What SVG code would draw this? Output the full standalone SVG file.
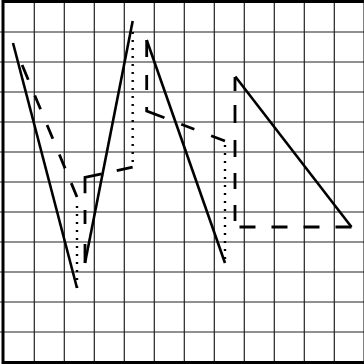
<svg xmlns="http://www.w3.org/2000/svg" width="364" height="364" viewBox="0 0 364 364">
<style>
.grid{stroke:#222;stroke-width:1.2;fill:none}
.frame{stroke:#000;stroke-width:3;fill:none}
.solid{stroke:#000;stroke-width:2.6;fill:none;stroke-linecap:butt}
.dash{stroke:#000;stroke-width:2.8;fill:none;stroke-dasharray:16 16;stroke-linejoin:miter}
.dot{stroke:#000;stroke-width:2.4;fill:none;stroke-dasharray:2 6}
</style>
<rect width="364" height="364" fill="#fff"/>
<g id="grid" class="grid">
<path d="M34.3 0V364M64.3 0V364M94.3 0V364M124.3 0V364M154.3 0V364M184.3 0V364M214.3 0V364M244.3 0V364M274.3 0V364M304.3 0V364M334.3 0V364"/>
<path d="M0 32H364M0 62H364M0 92H364M0 122H364M0 152H364M0 182H364M0 212H364M0 242H364M0 272H364M0 302H364M0 332H364"/>
</g>
<rect class="frame" x="3" y="1.5" width="362" height="361"/>
<g id="figure1">
<line class="solid" x1="13" y1="43" x2="77" y2="288"/>
<line class="dash" x1="77" y1="197" x2="13" y2="43" style="stroke-dasharray:15 16 15 17 15 17 15 17 16 40"/>
<line class="dot" x1="77" y1="206" x2="77" y2="288"/>
</g>
<g id="figure2">
<line class="solid" x1="85" y1="263" x2="132.7" y2="21"/>
<polyline class="dash" points="85,263 85,177.5 132.7,167" style="stroke-dasharray:19 20 14 16.7 32.9 15.4 16.3 40"/>
<line class="dot" x1="132.7" y1="32" x2="132.7" y2="165"/>
</g>
<g id="figure3">
<line class="solid" x1="146.7" y1="40" x2="225" y2="263"/>
<polyline class="dash" points="146.7,40 146.7,111 225,141" style="stroke-dasharray:17 18 15 17 23 18 14 18 15 40"/>
<line class="dot" x1="225" y1="145" x2="225" y2="263"/>
</g>
<g id="figure4">
<line class="solid" x1="235.3" y1="76.5" x2="351.5" y2="227"/>
<line class="dash" x1="235" y1="77" x2="235" y2="227" style="stroke-dasharray:14 14 18 17 17 16 16 16 16 40"/>
<line class="dash" x1="351.5" y1="227" x2="235" y2="227"/>
</g>
</svg>
